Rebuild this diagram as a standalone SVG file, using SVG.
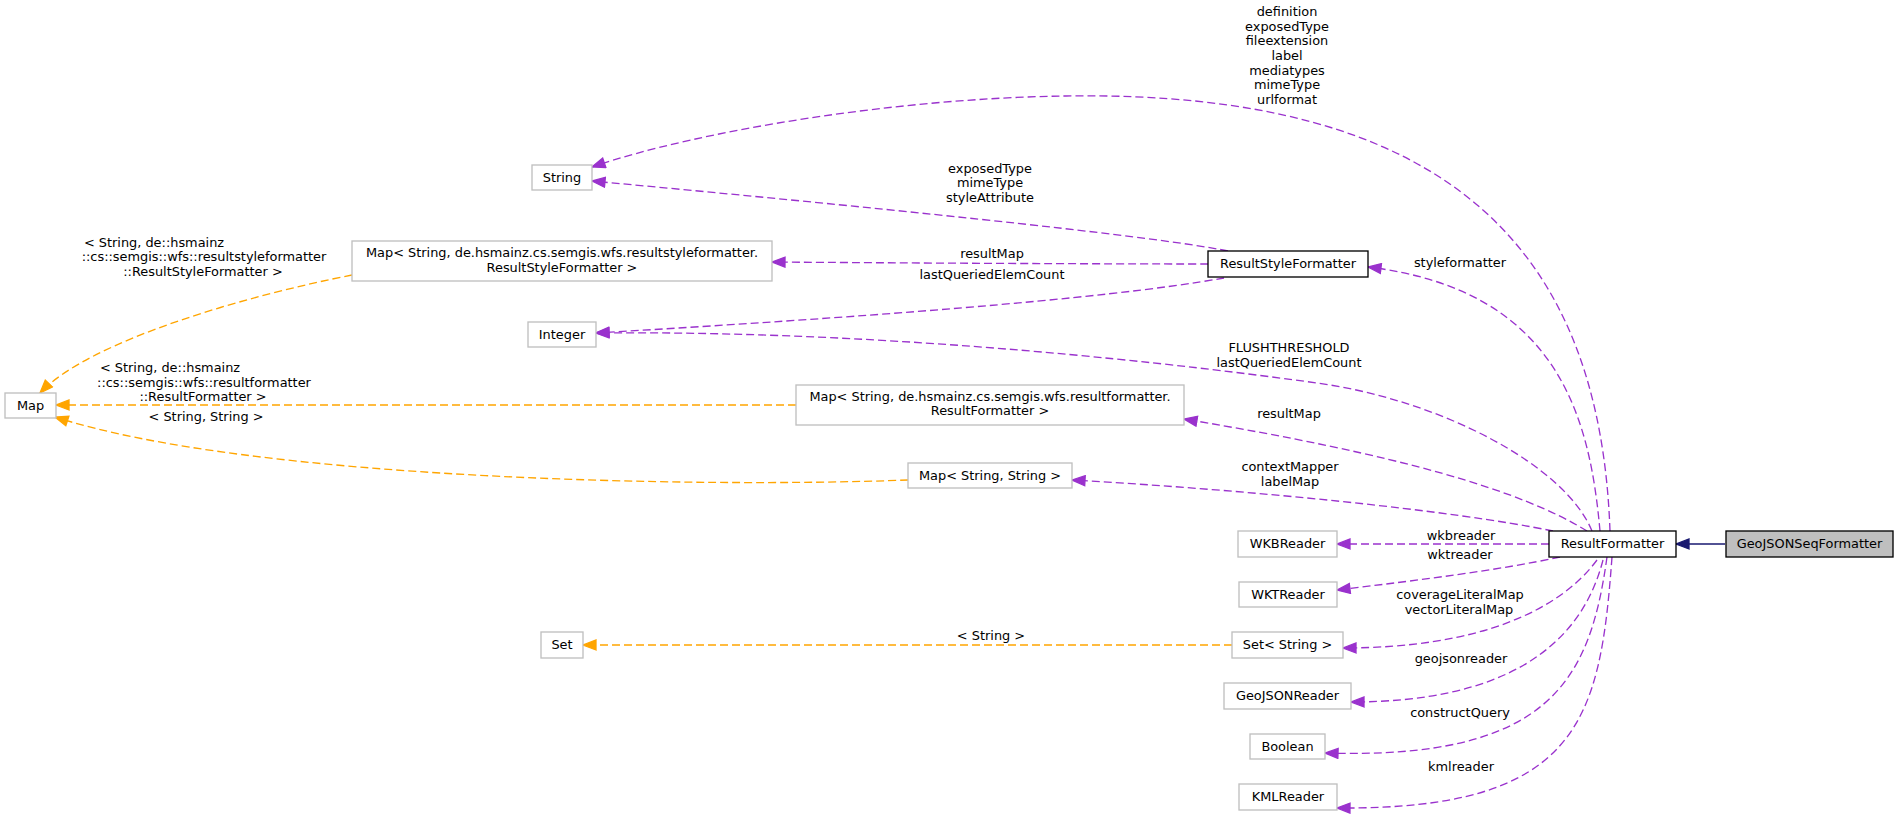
<svg xmlns="http://www.w3.org/2000/svg" width="1899" height="817" viewBox="0 0 1899 817">
<style>
text{font-family:"DejaVu Sans",sans-serif;font-size:12.9px;fill:#000;text-anchor:middle}
.n{fill:#fff;stroke:#bfbfbf;stroke-width:1.33}
.k{fill:#fff;stroke:#000;stroke-width:1.33}
.e{fill:none;stroke:#9a32cd;stroke-width:1.33;stroke-dasharray:8,4}
.t{fill:none;stroke:#ffa500;stroke-width:1.33;stroke-dasharray:8,4}
.i{fill:none;stroke:#191970;stroke-width:1.33}
</style>
<defs>
<marker id="ap" markerUnits="userSpaceOnUse" viewBox="0 0 16 12" markerWidth="16" markerHeight="12" refX="14" refY="6" orient="auto"><path d="M1,1 L14,6 L1,11 z" fill="#9a32cd" stroke="#9a32cd" stroke-width="1.3"/></marker>
<marker id="ao" markerUnits="userSpaceOnUse" viewBox="0 0 16 12" markerWidth="16" markerHeight="12" refX="14" refY="6" orient="auto"><path d="M1,1 L14,6 L1,11 z" fill="#ffa500" stroke="#ffa500" stroke-width="1.3"/></marker>
<marker id="ai" markerUnits="userSpaceOnUse" viewBox="0 0 16 12" markerWidth="16" markerHeight="12" refX="14" refY="6" orient="auto"><path d="M1,1 L14,6 L1,11 z" fill="#191970" stroke="#191970" stroke-width="1.3"/></marker>
</defs>
<rect width="1899" height="817" fill="#fff"/>
<g id="edges">
<path class="e" marker-end="url(#ap)" d="M1610,531 C1600,250 1450,90 1066,96 C900,98 700,130 592,167"/>
<text x="1287" y="16">definition</text>
<text x="1287" y="30.7">exposedType</text>
<text x="1287" y="45.3">fileextension</text>
<text x="1287" y="60">label</text>
<text x="1287" y="74.7">mediatypes</text>
<text x="1287" y="89.3">mimeType</text>
<text x="1287" y="104">urlformat</text>
<path class="e" marker-end="url(#ap)" d="M1228,251 C1150,235 850,205 592,181"/>
<text x="990" y="172.7">exposedType</text>
<text x="990" y="187.3">mimeType</text>
<text x="990" y="202">styleAttribute</text>
<path class="e" marker-end="url(#ap)" d="M1208,264 C1100,264 900,263 772,262"/>
<text x="992" y="258">resultMap</text>
<path class="e" marker-end="url(#ap)" d="M1224,278 C1100,300 850,318 596,333"/>
<text x="992" y="279">lastQueriedElemCount</text>
<path class="e" marker-end="url(#ap)" d="M1600,531 C1590,420 1560,290 1368,267"/>
<text x="1460" y="267">styleformatter</text>
<path class="e" marker-end="url(#ap)" d="M1592,531 C1565,465 1440,400 1317,383 C1194,366 900,330 596,333"/>
<text x="1289" y="352">FLUSHTHRESHOLD</text>
<text x="1289" y="366.7">lastQueriedElemCount</text>
<path class="e" marker-end="url(#ap)" d="M1587,531 C1520,490 1400,455 1184,419"/>
<text x="1289" y="418">resultMap</text>
<path class="e" marker-end="url(#ap)" d="M1553,531 C1450,510 1250,490 1072,480"/>
<text x="1290" y="471">contextMapper</text>
<text x="1290" y="485.7">labelMap</text>
<path class="e" marker-end="url(#ap)" d="M1549,544 L1337,544"/>
<text x="1461" y="539.5">wkbreader</text>
<path class="e" marker-end="url(#ap)" d="M1560,557 C1500,570 1420,580 1337,590"/>
<text x="1460" y="559">wktreader</text>
<path class="e" marker-end="url(#ap)" d="M1597,560 C1560,610 1480,648 1343,648"/>
<text x="1460" y="599">coverageLiteralMap</text>
<text x="1459" y="613.7">vectorLiteralMap</text>
<path class="e" marker-end="url(#ap)" d="M1603,560 C1580,650 1500,702 1351,702"/>
<text x="1461" y="663">geojsonreader</text>
<path class="e" marker-end="url(#ap)" d="M1607,557 C1590,680 1550,760 1325,753"/>
<text x="1460" y="717">constructQuery</text>
<path class="e" marker-end="url(#ap)" d="M1612,557 C1600,720 1580,810 1337,808"/>
<text x="1461" y="771">kmlreader</text>
<path class="i" marker-end="url(#ai)" d="M1725,544 L1676,544"/>
<path class="t" marker-end="url(#ao)" d="M352,275 C250,295 90,340 40,393"/>
<text x="154" y="246.7">&lt; String, de::hsmainz</text>
<text x="204" y="261.3">::cs::semgis::wfs::resultstyleformatter</text>
<text x="203" y="276">::ResultStyleFormatter &gt;</text>
<path class="t" marker-end="url(#ao)" d="M796,405 L56,405"/>
<text x="170" y="372">&lt; String, de::hsmainz</text>
<text x="204" y="386.7">::cs::semgis::wfs::resultformatter</text>
<text x="203" y="401.3">::ResultFormatter &gt;</text>
<path class="t" marker-end="url(#ao)" d="M908,480 C700,488 250,480 55,417"/>
<text x="206" y="420.7">&lt; String, String &gt;</text>
<path class="t" marker-end="url(#ao)" d="M1232,645 L583,645"/>
<text x="991" y="640">&lt; String &gt;</text>
</g>
<g id="node-GeoJSONSeqFormatter"><rect x="1726" y="531" width="167" height="26" fill="#bfbfbf" stroke="#000" stroke-width="1.33"/><text x="1809.5" y="548">GeoJSONSeqFormatter</text></g>
<g id="node-ResultFormatter"><rect class="k" x="1549" y="531" width="127" height="26"/><text x="1612.5" y="548">ResultFormatter</text></g>
<g id="node-String"><rect class="n" x="532" y="165" width="60" height="25"/><text x="562" y="182">String</text></g>
<g id="node-ResultStyleFormatter"><rect class="k" x="1208" y="251" width="160" height="26"/><text x="1288" y="268">ResultStyleFormatter</text></g>
<g id="node-MapStyle"><rect class="n" x="352" y="241" width="420" height="40"/><text x="562" y="257">Map&lt; String, de.hsmainz.cs.semgis.wfs.resultstyleformatter.</text><text x="562" y="271.7">ResultStyleFormatter &gt;</text></g>
<g id="node-Integer"><rect class="n" x="528" y="322" width="68" height="25"/><text x="562" y="338.5">Integer</text></g>
<g id="node-Map"><rect class="n" x="5" y="393" width="51" height="25"/><text x="30.5" y="409.5">Map</text></g>
<g id="node-MapResult"><rect class="n" x="796" y="385" width="388" height="40"/><text x="990" y="400.5">Map&lt; String, de.hsmainz.cs.semgis.wfs.resultformatter.</text><text x="990" y="415.2">ResultFormatter &gt;</text></g>
<g id="node-MapStringString"><rect class="n" x="908" y="463" width="164" height="25"/><text x="990" y="479.5">Map&lt; String, String &gt;</text></g>
<g id="node-WKBReader"><rect class="n" x="1238" y="531" width="99" height="26"/><text x="1287.5" y="548">WKBReader</text></g>
<g id="node-WKTReader"><rect class="n" x="1239" y="582" width="98" height="25"/><text x="1288" y="598.5">WKTReader</text></g>
<g id="node-SetString"><rect class="n" x="1232" y="632" width="111" height="26"/><text x="1287.5" y="649">Set&lt; String &gt;</text></g>
<g id="node-Set"><rect class="n" x="541" y="632" width="42" height="26"/><text x="562" y="649">Set</text></g>
<g id="node-GeoJSONReader"><rect class="n" x="1224" y="683" width="127" height="26"/><text x="1287.5" y="700">GeoJSONReader</text></g>
<g id="node-Boolean"><rect class="n" x="1250" y="734" width="75" height="25"/><text x="1287.5" y="750.5">Boolean</text></g>
<g id="node-KMLReader"><rect class="n" x="1239" y="784" width="98" height="26"/><text x="1288" y="801">KMLReader</text></g>
</svg>
